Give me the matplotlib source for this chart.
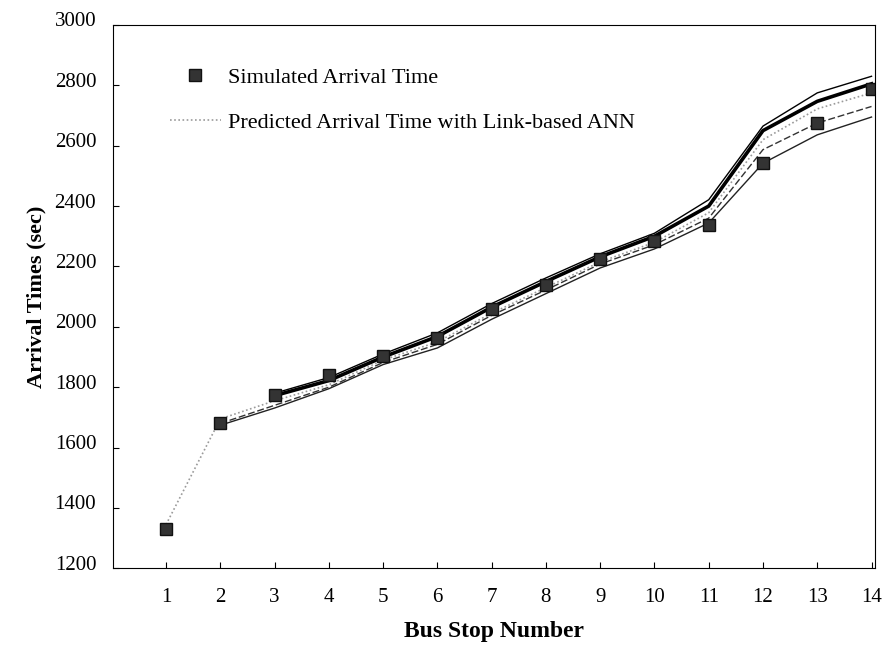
import numpy as np
import matplotlib
matplotlib.use('Agg')
import matplotlib.pyplot as plt
import matplotlib.transforms as mtransforms

plt.rcParams['font.family'] = ['Liberation Serif', 'DejaVu Serif']

# fermate e tempi di arrivo (sec)
stops = np.arange(1, 15)
simulated = [1330, 1683, 1775, 1840, 1902, 1962, 2058, 2137, 2225, 2285, 2336, 2543, 2675, 2789]

nan = np.nan
pred_top = [nan, nan, 1780, 1832, 1910, 1980, 2077, 2162, 2242, 2310, 2421, 2665, 2775, 2830]
pred_thick = [nan, nan, 1772, 1822, 1900, 1968, 2065, 2150, 2232, 2300, 2400, 2650, 2747, 2805]
pred_dotted = [1345, 1695, 1755, 1808, 1890, 1950, 2045, 2130, 2215, 2280, 2378, 2620, 2722, 2775]
pred_dashed = [nan, 1680, 1740, 1800, 1882, 1942, 2038, 2122, 2208, 2272, 2360, 2587, 2675, 2730]
pred_low = [nan, 1674, 1731, 1795, 1875, 1930, 2025, 2110, 2195, 2258, 2344, 2542, 2636, 2695]

yticks = [1200, 1400, 1600, 1800, 2000, 2200, 2400, 2600, 2800, 3000]

fig = plt.figure(figsize=(8.89, 6.57), dpi=100)
ax = fig.add_axes([0.127, 0.135, 0.857, 0.827])

# linee predette
ax.plot(stops, pred_low, color='#222222', lw=1.0)
ax.plot(stops, pred_dashed, color='#333333', lw=1.0, linestyle=(0, (5, 2)))
ax.plot(stops, pred_thick, color='black', lw=2.6)
ax.plot(stops, pred_top, color='black', lw=1.0)
ax.plot(stops, pred_dotted, color='#9a9a9a', lw=1.2, linestyle=(0, (1, 1.5)),
        label='Predicted Arrival Time with Link-based ANN')

# tempi simulati
ax.plot(stops, simulated, linestyle='none', marker='s', markersize=9,
        color='#333333', markeredgecolor='#111111', label='Simulated Arrival Time')

ax.set_xlim(0.02, 14.06)
ax.set_ylim(1200, 3000)
ax.set_xticks(stops)
ax.set_yticks(yticks)
ax.tick_params(direction='in', length=4, width=0.8, labelsize=15)
ax.tick_params(axis='x', pad=14)
ax.tick_params(axis='y', pad=12)

# etichette y leggermente sopra le tacche, come nell'originale
shift = mtransforms.ScaledTranslation(0, 4 / 72, fig.dpi_scale_trans)
for lbl in ax.get_yticklabels():
    lbl.set_transform(lbl.get_transform() + shift)

ax.set_xlabel('Bus Stop Number', fontsize=17, fontweight='bold', labelpad=10)
ax.set_ylabel('Arrival Times (sec)', fontsize=16, fontweight='bold', labelpad=6)

handles, labels = ax.get_legend_handles_labels()
ax.legend(handles[::-1], labels[::-1], loc='upper left', bbox_to_anchor=(0.06, 0.942),
          frameon=False, fontsize=16, borderpad=0, labelspacing=1.1,
          handlelength=2.3, handletextpad=0.3)

plt.savefig('out.png', dpi=100)
